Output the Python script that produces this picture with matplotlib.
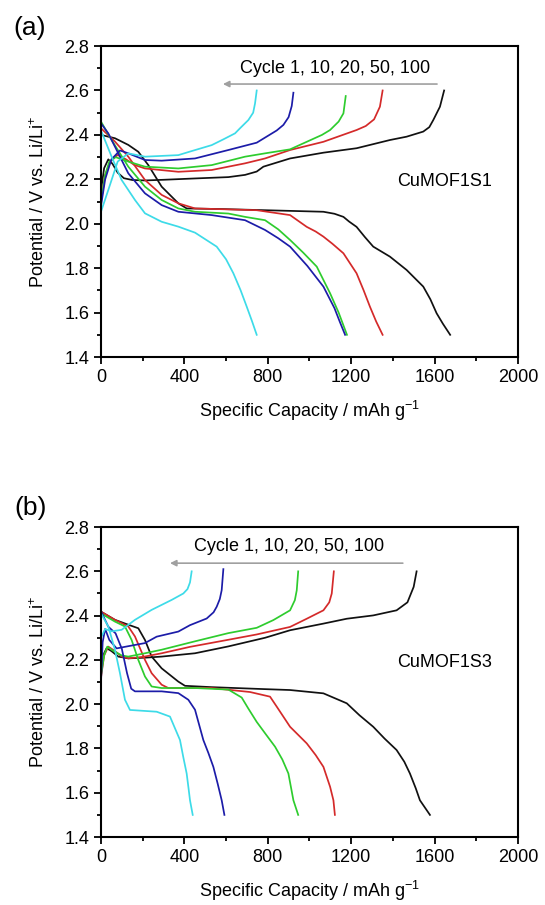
import matplotlib
matplotlib.use("Agg")
import matplotlib.pyplot as plt
from matplotlib.ticker import MultipleLocator

plt.rcParams['font.family'] = ['Liberation Sans', 'DejaVu Sans']
plt.rcParams['mathtext.default'] = 'regular'

# cycle order used for both panels
cycle_names = ['1', '10', '20', '50', '100']
cycle_colors = ['#111111', '#d42a2a', '#2ecc2e', '#1c1ca8', '#3ddbe8']

# ---- panel (a) CuMOF1S1 ----
a1_dis_x = [0, 67, 131, 179, 227, 291, 371, 411, 587, 907, 1067, 1120, 1163, 1190, 1226, 1266, 1306, 1386, 1466, 1546, 1580, 1610, 1640, 1675]
a1_dis_y = [2.40, 2.385, 2.355, 2.324, 2.264, 2.167, 2.092, 2.069, 2.066, 2.058, 2.054, 2.045, 2.031, 2.01, 1.986, 1.94, 1.897, 1.852, 1.792, 1.717, 1.66, 1.597, 1.55, 1.50]
a1_chg_x = [0, 15, 35, 55, 80, 110, 150, 211, 300, 451, 611, 691, 747, 779, 907, 1067, 1226, 1386, 1466, 1546, 1575, 1594, 1626, 1646]
a1_chg_y = [2.15, 2.25, 2.29, 2.27, 2.23, 2.205, 2.197, 2.195, 2.198, 2.204, 2.21, 2.22, 2.235, 2.257, 2.294, 2.32, 2.34, 2.377, 2.392, 2.415, 2.435, 2.467, 2.527, 2.60]

a10_dis_x = [0, 67, 131, 211, 291, 371, 451, 747, 907, 987, 1030, 1067, 1110, 1163, 1226, 1260, 1290, 1320, 1351]
a10_dis_y = [2.43, 2.37, 2.302, 2.197, 2.13, 2.092, 2.069, 2.061, 2.039, 1.986, 1.965, 1.942, 1.91, 1.867, 1.777, 1.70, 1.627, 1.56, 1.50]
a10_chg_x = [0, 20, 45, 80, 120, 160, 211, 371, 531, 691, 787, 907, 1067, 1226, 1270, 1310, 1338, 1351]
a10_chg_y = [2.10, 2.22, 2.28, 2.31, 2.29, 2.265, 2.249, 2.234, 2.242, 2.272, 2.294, 2.332, 2.369, 2.422, 2.44, 2.47, 2.527, 2.60]

a20_dis_x = [0, 51, 131, 211, 291, 371, 451, 611, 691, 787, 850, 907, 970, 1035, 1099, 1140, 1160, 1180]
a20_dis_y = [2.46, 2.377, 2.257, 2.167, 2.107, 2.069, 2.054, 2.046, 2.031, 2.016, 1.975, 1.927, 1.87, 1.807, 1.687, 1.60, 1.55, 1.50]
a20_chg_x = [0, 20, 40, 70, 100, 131, 211, 371, 531, 691, 787, 907, 987, 1060, 1099, 1140, 1163, 1174]
a20_chg_y = [2.10, 2.22, 2.28, 2.30, 2.29, 2.28, 2.257, 2.249, 2.264, 2.302, 2.317, 2.335, 2.369, 2.40, 2.422, 2.46, 2.497, 2.575]

a50_dis_x = [0, 35, 131, 211, 291, 371, 531, 691, 787, 850, 907, 990, 1067, 1120, 1145, 1171]
a50_dis_y = [2.452, 2.407, 2.227, 2.137, 2.084, 2.054, 2.039, 2.016, 1.972, 1.935, 1.897, 1.81, 1.717, 1.62, 1.56, 1.50]
a50_chg_x = [0, 20, 50, 91, 131, 211, 291, 451, 611, 747, 843, 875, 900, 915, 923]
a50_chg_y = [2.08, 2.20, 2.29, 2.33, 2.317, 2.287, 2.284, 2.294, 2.332, 2.365, 2.42, 2.445, 2.48, 2.53, 2.59]

a100_dis_x = [0, 51, 99, 163, 211, 291, 371, 451, 555, 600, 635, 670, 699, 725, 747]
a100_dis_y = [2.42, 2.302, 2.197, 2.107, 2.047, 2.009, 1.987, 1.96, 1.897, 1.84, 1.777, 1.70, 1.627, 1.56, 1.50]
a100_chg_x = [0, 35, 80, 131, 211, 371, 427, 531, 587, 643, 667, 707, 730, 739, 747]
a100_chg_y = [2.054, 2.152, 2.28, 2.317, 2.302, 2.309, 2.325, 2.354, 2.38, 2.407, 2.43, 2.467, 2.50, 2.542, 2.60]

# ---- panel (b) CuMOF1S3 ----
b1_dis_x = [0, 67, 131, 179, 211, 243, 291, 371, 403, 531, 787, 907, 1067, 1179, 1240, 1306, 1360, 1418, 1455, 1482, 1510, 1530, 1578]
b1_dis_y = [2.418, 2.381, 2.359, 2.343, 2.29, 2.215, 2.162, 2.102, 2.083, 2.077, 2.068, 2.064, 2.049, 2.004, 1.95, 1.898, 1.845, 1.793, 1.74, 1.687, 1.62, 1.566, 1.50]
b1_chg_x = [0, 15, 27, 50, 83, 131, 211, 291, 451, 611, 787, 907, 1067, 1179, 1306, 1418, 1470, 1500, 1514]
b1_chg_y = [2.15, 2.23, 2.253, 2.24, 2.215, 2.207, 2.21, 2.215, 2.23, 2.261, 2.30, 2.334, 2.364, 2.386, 2.401, 2.424, 2.46, 2.53, 2.60]

b10_dis_x = [0, 67, 131, 163, 211, 243, 291, 323, 531, 715, 811, 843, 907, 987, 1030, 1067, 1099, 1115, 1122]
b10_dis_y = [2.418, 2.381, 2.351, 2.306, 2.20, 2.14, 2.088, 2.073, 2.073, 2.055, 2.034, 1.989, 1.898, 1.823, 1.77, 1.717, 1.627, 1.566, 1.50]
b10_chg_x = [0, 15, 35, 67, 100, 131, 203, 291, 427, 611, 747, 907, 987, 1067, 1095, 1107, 1117]
b10_chg_y = [2.12, 2.22, 2.26, 2.24, 2.215, 2.207, 2.214, 2.23, 2.259, 2.291, 2.315, 2.349, 2.386, 2.424, 2.46, 2.50, 2.60]

b20_dis_x = [0, 67, 115, 147, 179, 211, 243, 291, 451, 611, 675, 707, 747, 790, 835, 870, 899, 923, 946]
b20_dis_y = [2.41, 2.373, 2.351, 2.29, 2.20, 2.125, 2.08, 2.073, 2.073, 2.066, 2.03, 1.98, 1.92, 1.865, 1.808, 1.75, 1.687, 1.566, 1.50]
b20_chg_x = [0, 15, 30, 60, 100, 131, 211, 291, 451, 611, 747, 827, 907, 930, 939, 946]
b20_chg_y = [2.13, 2.22, 2.26, 2.24, 2.22, 2.215, 2.23, 2.246, 2.284, 2.321, 2.345, 2.38, 2.424, 2.47, 2.514, 2.60]

b50_dis_x = [0, 35, 70, 100, 125, 145, 163, 291, 371, 419, 451, 491, 515, 539, 560, 579, 592]
b50_dis_y = [2.42, 2.35, 2.32, 2.25, 2.14, 2.07, 2.058, 2.058, 2.05, 2.02, 1.975, 1.838, 1.78, 1.717, 1.64, 1.566, 1.50]
b50_chg_x = [0, 8, 20, 40, 75, 131, 211, 267, 371, 427, 507, 540, 555, 570, 579, 587]
b50_chg_y = [2.10, 2.28, 2.34, 2.29, 2.252, 2.262, 2.276, 2.305, 2.328, 2.357, 2.387, 2.415, 2.44, 2.475, 2.515, 2.61]

b100_dis_x = [0, 35, 67, 91, 115, 139, 267, 331, 379, 395, 411, 420, 427, 440]
b100_dis_y = [2.41, 2.351, 2.246, 2.14, 2.02, 1.974, 1.966, 1.944, 1.838, 1.76, 1.687, 1.62, 1.566, 1.50]
b100_chg_x = [0, 20, 51, 99, 163, 243, 339, 395, 415, 427, 435]
b100_chg_y = [2.30, 2.34, 2.329, 2.336, 2.381, 2.426, 2.471, 2.50, 2.52, 2.55, 2.60]

panel_a = [(a1_dis_x, a1_dis_y, a1_chg_x, a1_chg_y),
           (a10_dis_x, a10_dis_y, a10_chg_x, a10_chg_y),
           (a20_dis_x, a20_dis_y, a20_chg_x, a20_chg_y),
           (a50_dis_x, a50_dis_y, a50_chg_x, a50_chg_y),
           (a100_dis_x, a100_dis_y, a100_chg_x, a100_chg_y)]
panel_b = [(b1_dis_x, b1_dis_y, b1_chg_x, b1_chg_y),
           (b10_dis_x, b10_dis_y, b10_chg_x, b10_chg_y),
           (b20_dis_x, b20_dis_y, b20_chg_x, b20_chg_y),
           (b50_dis_x, b50_dis_y, b50_chg_x, b50_chg_y),
           (b100_dis_x, b100_dis_y, b100_chg_x, b100_chg_y)]


def draw_panel(ax, curves, sample, text_xy, arrow_x, arrow_y):
    for (dx, dy, cx, cy), color in zip(curves, cycle_colors):
        ax.plot(dx, dy, color=color, lw=1.25, solid_joinstyle='round')
        ax.plot(cx, cy, color=color, lw=1.25, solid_joinstyle='round')

    ax.set_xlim(0, 2000)
    ax.set_ylim(1.4, 2.8)
    ax.xaxis.set_major_locator(MultipleLocator(400))
    ax.xaxis.set_minor_locator(MultipleLocator(200))
    ax.yaxis.set_major_locator(MultipleLocator(0.2))
    ax.yaxis.set_minor_locator(MultipleLocator(0.1))
    ax.yaxis.set_major_formatter(plt.FormatStrFormatter('%.1f'))
    ax.tick_params(which='both', direction='out', top=False, right=False,
                   labelsize=13, width=1.3)
    ax.tick_params(which='major', length=5)
    ax.tick_params(which='minor', length=3)
    for s in ax.spines.values():
        s.set_linewidth(1.5)

    ax.set_xlabel('Specific Capacity / mAh g$^{-1}$', fontsize=13)
    ax.set_ylabel('Potential / V vs. Li/Li$^{+}$', fontsize=13)
    ax.xaxis.set_label_coords(0.5, -0.135)
    ax.yaxis.set_label_coords(-0.128, 0.5)

    ax.text(text_xy[0], text_xy[1], 'Cycle ' + ', '.join(cycle_names),
            fontsize=13, ha='center', va='center')
    ax.annotate('', xy=(arrow_x[1], arrow_y), xytext=(arrow_x[0], arrow_y),
                arrowprops=dict(arrowstyle='-|>', color='#a0a0a0', lw=1.2,
                                mutation_scale=9, shrinkA=0, shrinkB=0))
    ax.text(1420, 2.19, sample, fontsize=13, ha='left', va='center')


fig = plt.figure(figsize=(5.45, 9.05), dpi=100)
ax_a = fig.add_axes([0.1853, 0.6055, 0.765, 0.3436])
ax_b = fig.add_axes([0.1853, 0.0751, 0.765, 0.3425])

draw_panel(ax_a, panel_a, 'CuMOF1S1', (1122, 2.70), (1612, 585), 2.629)
draw_panel(ax_b, panel_b, 'CuMOF1S3', (902, 2.714), (1448, 331), 2.637)

fig.text(0.024, 0.969, '(a)', fontsize=19, ha='left', va='center')
fig.text(0.026, 0.439, '(b)', fontsize=19, ha='left', va='center')

fig.savefig('out.png', dpi=100)
